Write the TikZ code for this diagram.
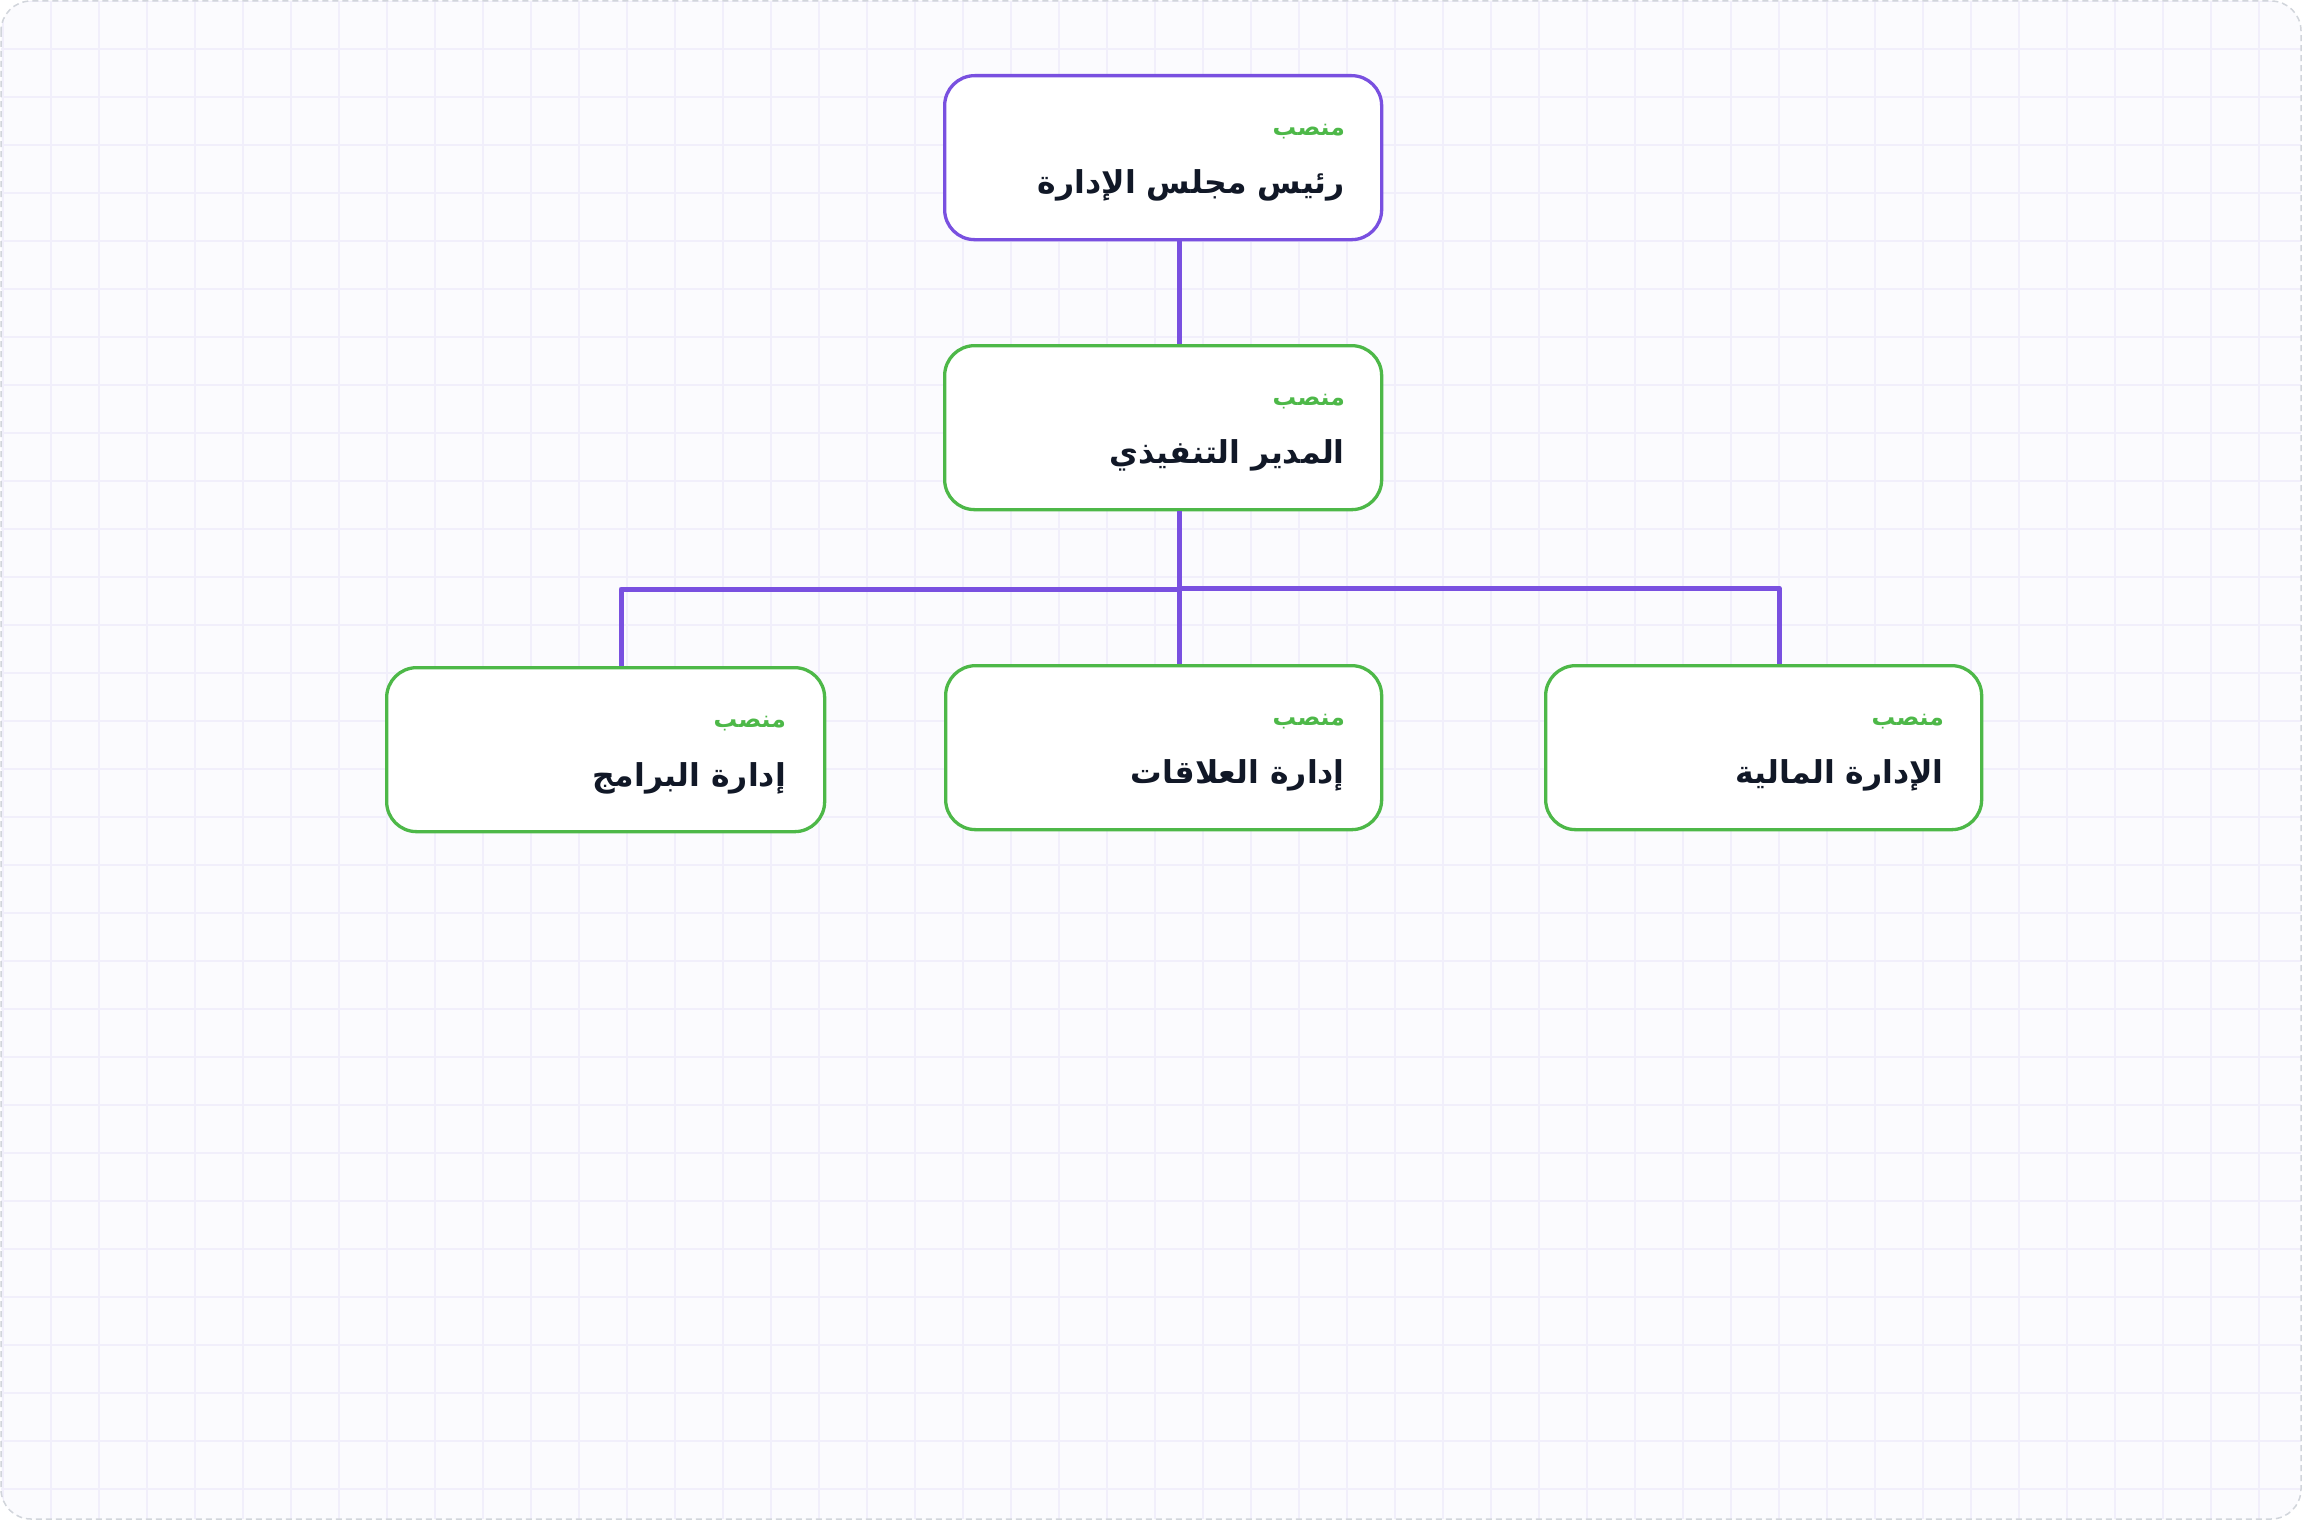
\documentclass[tikz,border=0pt]{standalone}
\usepackage{fontspec}
\TeXXeTstate=1
\newfontfamily\arabicfont[Script=Arabic]{DejaVu Sans}
\definecolor{purp}{HTML}{7950E0}
\definecolor{grn}{HTML}{4DB848}
\definecolor{ink}{HTML}{111827}
\definecolor{bgc}{HTML}{FBFBFE}
\definecolor{gridc}{HTML}{F1EFFB}
\definecolor{bord}{HTML}{D1D5DB}
\tikzset{
  card/.style={draw, line width=3.3pt, fill=white, rounded corners=30pt, inner sep=0pt, anchor=north west},
  topcard/.style={card, draw=purp},
  subcard/.style={card, draw=grn},
  role/.style={anchor=base east, inner sep=0pt, text=grn, font=\arabicfont\bfseries\fontsize{23.5}{28}\selectfont},
  title/.style={anchor=base east, inner sep=0pt, text=ink, font=\arabicfont\bfseries\fontsize{31.5}{38}\selectfont},
  link/.style={draw=purp, line width=5pt, line join=round}
}
\begin{document}
\begin{tikzpicture}[x=1pt,y=-1pt]
\useasboundingbox (0,0) rectangle (2302,1520);
\fill[white] (0,0) rectangle (2302,1520);
\begin{scope}
\clip[rounded corners=30pt] (1,1) rectangle (2301,1519);
\fill[bgc] (0,0) rectangle (2302,1520);
\foreach \x in {3,51,...,2302} \draw[gridc, line width=2pt] (\x,0) -- (\x,1520);
\foreach \y in {1,49,...,1520} \draw[gridc, line width=2pt] (0,\y) -- (2302,\y);
\end{scope}
\draw[bord, line width=1.5pt, dash pattern=on 6pt off 4pt, rounded corners=30pt] (1,1) rectangle (2301,1519);

% boxes
\node[topcard, minimum width=437pt, minimum height=164pt] (A) at (943,74) {};
\node[subcard, minimum width=437pt, minimum height=164pt] (B) at (943,344) {};
\node[subcard, minimum width=438pt, minimum height=164pt] (C) at (385,666) {};
\node[subcard, minimum width=436pt, minimum height=164pt] (D) at (944,664) {};
\node[subcard, minimum width=436pt, minimum height=164pt] (E) at (1544,664) {};

% connectors
\coordinate (j) at (1179,0);
\coordinate (hl) at (0,589);
\coordinate (hr) at (0,588);
\coordinate (cl) at (621,0);
\coordinate (cr) at (1779,0);
\draw[link] (A.south -| j) -- (B.north -| j);
\draw[link] (B.south -| j) -- (D.north -| j);
\draw[link] (B.south -| j) -- (hl -| j) -- (hl -| cl) -- (C.north -| cl);
\draw[link] (B.south -| j) -- (hr -| j) -- (hr -| cr) -- (E.north -| cr);

% texts
\node[role] (A1) at (1345,135) {\beginR منصب\endR};
\node[title] (A2) at (1345,193) {\beginR رئيس مجلس الإدارة\endR};
\node[role] (B1) at (1345,405) {\beginR منصب\endR};
\node[title] (B2) at (1345,463) {\beginR المدير التنفيذي\endR};
\node[role] (C1) at (786,727) {\beginR منصب\endR};
\node[title] (C2) at (786,786) {\beginR إدارة البرامج\endR};
\node[role] (D1) at (1345,725) {\beginR منصب\endR};
\node[title] (D2) at (1345,783) {\beginR إدارة العلاقات\endR};
\node[role] (E1) at (1944,725) {\beginR منصب\endR};
\node[title] (E2) at (1944,783) {\beginR الإدارة المالية\endR};
\end{tikzpicture}
\end{document}
